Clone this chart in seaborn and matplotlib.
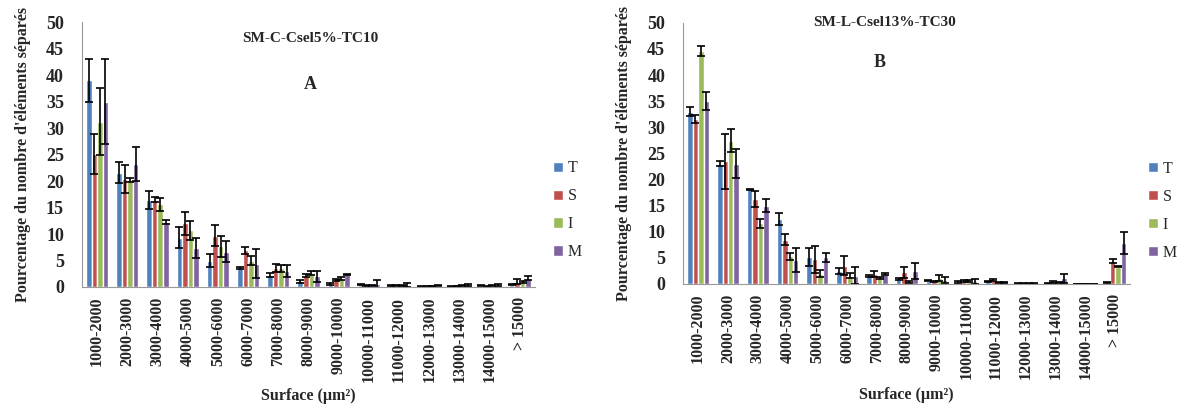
import matplotlib
matplotlib.use("Agg")
import matplotlib.pyplot as plt
from matplotlib.patches import Patch
from matplotlib.ticker import MultipleLocator, FixedLocator
import numpy as np
import pandas as pd
import seaborn as sns

categories = ["1000-2000", "2000-3000", "3000-4000", "4000-5000", "5000-6000",
              "6000-7000", "7000-8000", "8000-9000", "9000-10000", "10000-11000",
              "11000-12000", "12000-13000", "13000-14000", "14000-15000", "> 15000"]
groups = ["T", "S", "I", "M"]

# panel A : SM-C-Csel5%-TC10
a_T = [39.0, 21.6, 16.5, 9.3, 5.0, 3.6, 2.3, 1.1, 0.6, 0.4, 0.3, 0.1, 0.1, 0.2, 0.4]
a_S = [25.1, 20.4, 16.5, 12.0, 9.7, 6.9, 3.6, 2.1, 1.3, 0.3, 0.2, 0.1, 0.2, 0.1, 1.0]
a_I = [31.2, 20.2, 15.6, 10.7, 7.7, 5.0, 3.5, 2.6, 1.6, 0.2, 0.3, 0.2, 0.3, 0.2, 0.9]
a_M = [35.0, 23.2, 12.3, 7.4, 6.7, 4.4, 3.0, 2.0, 2.4, 0.5, 0.4, 0.2, 0.3, 0.3, 1.7]
a_T_err = [4.0, 2.0, 1.7, 2.0, 1.3, 0.2, 0.4, 0.3, 0.2, 0.1, 0.1, 0.05, 0.05, 0.1, 0.1]
a_S_err = [3.7, 2.7, 0.4, 2.1, 2.0, 0.7, 0.8, 0.3, 0.2, 0.1, 0.1, 0.05, 0.05, 0.1, 0.5]
a_I_err = [6.3, 0.4, 1.2, 1.8, 2.0, 0.8, 0.6, 0.4, 0.2, 0.1, 0.1, 0.05, 0.1, 0.1, 0.2]
a_M_err = [8.0, 3.2, 0.4, 1.9, 2.0, 2.7, 1.2, 1.0, 0.1, 0.8, 0.4, 0.1, 0.2, 0.2, 0.4]

# panel B : SM-L-Csel13%-TC30
b_T = [33.0, 23.0, 18.1, 12.4, 5.2, 2.5, 1.5, 0.9, 0.6, 0.4, 0.5, 0.1, 0.1, 0.05, 0.3]
b_S = [31.6, 23.5, 16.3, 8.5, 4.7, 3.5, 1.9, 2.2, 0.5, 0.6, 0.7, 0.1, 0.3, 0.05, 4.4]
b_I = [44.6, 27.4, 11.6, 5.3, 2.0, 1.6, 1.1, 0.3, 1.2, 0.5, 0.3, 0.1, 0.2, 0.05, 3.3]
b_M = [35.0, 23.0, 15.0, 4.5, 5.1, 1.6, 1.9, 2.5, 0.7, 0.5, 0.3, 0.1, 1.1, 0.05, 7.9]
b_T_err = [0.8, 0.5, 0.1, 1.2, 1.7, 0.5, 0.2, 0.2, 0.1, 0.2, 0.1, 0.05, 0.05, 0.02, 0.1]
b_S_err = [0.8, 5.3, 1.5, 1.1, 2.6, 1.8, 0.6, 1.0, 0.1, 0.2, 0.2, 0.05, 0.2, 0.02, 0.3]
b_I_err = [1.0, 2.2, 0.8, 0.7, 0.7, 0.5, 0.2, 0.2, 0.6, 0.2, 0.1, 0.05, 0.1, 0.02, 0.1]
b_M_err = [1.7, 2.8, 1.2, 2.3, 0.9, 1.6, 0.2, 1.5, 0.6, 0.5, 0.1, 0.05, 0.9, 0.02, 2.1]

colors = ["#4F81BD", "#C0504D", "#9BBB59", "#8064A2"]

sns.set_style("white")
plt.rcParams["font.family"] = ["Liberation Serif", "DejaVu Serif"]
plt.rcParams["font.weight"] = "bold"


def panel(ax, vals, errs, title, letter, title_xy, letter_xy, leg_y, xlab_y):
    df = pd.DataFrame({
        "Surface": np.tile(categories, 4),
        "groupe": np.repeat(groups, len(categories)),
        "valeur": np.concatenate(vals),
    })
    sns.barplot(data=df, x="Surface", y="valeur", hue="groupe", order=categories,
                hue_order=groups, palette=colors, width=0.73, errorbar=None,
                saturation=1, ax=ax, legend=False)
    for cont, err in zip(ax.containers, errs):
        xs = [p.get_x() + p.get_width() / 2 for p in cont]
        hs = [p.get_height() for p in cont]
        ax.errorbar(xs, hs, yerr=err, fmt="none", ecolor="black",
                    elinewidth=1.2, capsize=3.2, capthick=1.2)
    ax.set_ylim(0, 50)
    ax.set_xlim(-0.5, len(categories) - 0.5)
    ax.yaxis.set_major_locator(MultipleLocator(5))
    ax.set_xticks(range(len(categories)))
    ax.set_xticklabels(categories, rotation=90, fontsize=11.5, fontweight="bold")
    ax.xaxis.set_minor_locator(FixedLocator(np.arange(-0.5, len(categories), 1)))
    ax.tick_params(axis="x", which="major", length=0, pad=7)
    ax.tick_params(axis="x", which="minor", length=4, color="#999999", direction="out")
    ax.tick_params(axis="y", length=4, color="#999999", direction="out",
                   labelsize=13, pad=9)
    for t in ax.get_yticklabels():
        t.set_fontweight("bold")
    for s in ["top", "right"]:
        ax.spines[s].set_visible(False)
    for s in ["left", "bottom"]:
        ax.spines[s].set_color("#999999")
    ax.set_xlabel("Surface (µm²)", fontsize=11.5, fontweight="bold", va="center")
    ax.xaxis.set_label_coords(0.5, xlab_y)
    ax.set_ylabel("Pourcentage du nombre d'éléments séparés", fontsize=11.5,
                  fontweight="bold", labelpad=11)
    ax.text(*title_xy, title, transform=ax.transAxes, ha="center", va="center",
            fontsize=11, fontweight="bold")
    ax.text(*letter_xy, letter, transform=ax.transAxes, ha="center", va="center",
            fontsize=13, fontweight="bold")
    handles = [Patch(facecolor=c, label=g) for c, g in zip(colors, groups)]
    ax.legend(handles=handles, loc="center left", bbox_to_anchor=(1.04, leg_y),
              frameon=False, handlelength=0.6, handleheight=0.6,
              handletextpad=0.3, labelspacing=0.75, borderpad=0, borderaxespad=0,
              prop={"weight": "normal", "size": 11.5})


fig = plt.figure(figsize=(11.78, 4.08), dpi=100)
ax1 = fig.add_axes([0.0696, 0.2966, 0.3846, 0.649])
ax2 = fig.add_axes([0.580, 0.304, 0.3795, 0.640])

panel(ax1, [a_T, a_S, a_I, a_M], [a_T_err, a_S_err, a_I_err, a_M_err],
      "SM-C-Csel5%-TC10", "A", (0.505, 0.94), (0.505, 0.765), 0.29, -0.41)
panel(ax2, [b_T, b_S, b_I, b_M], [b_T_err, b_S_err, b_I_err, b_M_err],
      "SM-L-Csel13%-TC30", "B", (0.45, 1.0), (0.44, 0.85), 0.28, -0.425)

fig.savefig("out.png", dpi=100)
